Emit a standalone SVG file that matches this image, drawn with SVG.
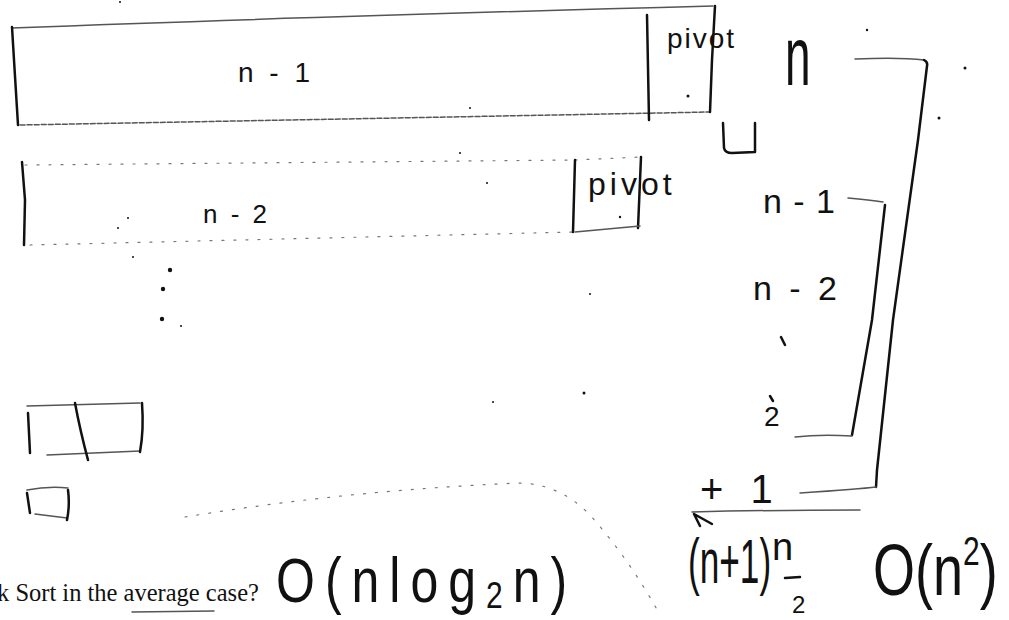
<svg xmlns="http://www.w3.org/2000/svg" width="1009" height="620" viewBox="0 0 1009 620">
<style>
.hw{font-family:"Liberation Sans","DejaVu Sans",sans-serif;fill:#111}
.pr{font-family:"Liberation Serif","Times New Roman",serif;fill:#111}
.ink{fill:none;stroke:#111;stroke-width:2.5;stroke-linecap:round;stroke-linejoin:round}
.thin{fill:none;stroke:#555;stroke-width:1.5;stroke-linecap:round}
.faint{fill:none;stroke:#777;stroke-width:1.2;stroke-dasharray:2 10;stroke-linecap:round}
.dot{fill:#111}
</style>
<rect width="1009" height="620" fill="#fff"/>

<g id="row1">
<path class="thin" d="M12,28 Q300,17 713,6"/>
<path class="thin" stroke-dasharray="5 2" d="M20,125 Q400,118 710,112"/>
<path class="ink" stroke-width="3" d="M12,27 L14,60 L18,125"/>
<path class="ink" d="M647,15 L649,120"/>
<path class="ink" d="M715,6 L712,60 L710,112"/>
<circle class="dot" cx="688" cy="96" r="1.5"/>
<text class="hw" x="238" y="82" font-size="28" letter-spacing="4">n - 1</text>
<text class="hw" x="667" y="48" font-size="28" letter-spacing="2">pivot</text>
</g>

<g id="row2">
<path class="faint" d="M25,165 L575,160"/>
<path class="faint" d="M30,245 L575,232"/>
<path class="ink" d="M22,162 L25,200 L24,245"/>
<path class="faint" d="M575,160 L641,157"/>
<path class="ink" d="M575,160 L573,232"/>
<path class="ink" stroke-width="2" d="M641,157 L638,228"/>
<path class="thin" stroke-width="1.2" d="M575,232 L640,226"/>
<circle class="dot" cx="620" cy="217" r="1.2"/>
<text class="hw" x="203" y="223" font-size="26" letter-spacing="3">n - 2</text>
<text class="hw" x="588" y="195" font-size="32" letter-spacing="4">pivot</text>
</g>

<g id="ellipsis">
<circle class="dot" cx="170" cy="270" r="2.2"/>
<circle class="dot" cx="163" cy="289" r="2.2"/>
<circle class="dot" cx="162" cy="319" r="2.2"/>
<circle class="dot" cx="128" cy="218" r="1"/>
<circle class="dot" cx="118" cy="228" r="1"/>
<circle class="dot" cx="133" cy="257" r="1"/>
<circle class="dot" cx="181" cy="326" r="1"/>
</g>

<g id="box-two">
<path class="thin" d="M27,406 L140,403"/>
<path class="ink" stroke-width="3" d="M28,413 L30,453"/>
<path class="thin" d="M47,455 L140,451"/>
<path class="ink" d="M142,403 Q144,430 140,452"/>
<path class="ink" stroke-width="2" d="M75,403 Q80,430 88,460"/>
</g>

<g id="box-one">
<path class="thin" d="M27,490 Q48,486 68,488"/>
<path class="ink" d="M27,493 L30,513"/>
<path class="thin" d="M35,514 L67,518"/>
<path class="ink" d="M68,490 Q70,505 67,520"/>
</g>

<g id="sum-terms">
<text class="hw" transform="translate(785,85) scale(1,1.8)" font-size="46">n</text>
<path class="ink" d="M723,123 L724,148 Q725,153 732,153 L755,152 L755,123"/>
<text class="hw" x="763" y="213" font-size="34" letter-spacing="1">n - 1</text>
<text class="hw" x="753" y="300" font-size="34" letter-spacing="4">n - 2</text>
<path class="ink" d="M781,337 L785,345"/>
<path class="ink" stroke-width="1.5" d="M770,396 L773,401"/>
<text class="hw" x="764" y="426" font-size="28">2</text>
<text class="hw" x="700" y="503" font-size="40" letter-spacing="8">+ 1</text>
</g>

<g id="result">
<text class="hw" transform="translate(688,583) scale(0.8,1.45)" font-size="44">(n+1)</text>
<text class="hw" x="772" y="560" font-size="38">n</text>
<path class="ink" stroke-width="2" d="M785,578 L800,577"/>
<text class="hw" x="792" y="613" font-size="24">2</text>
<text class="hw" transform="translate(873,595) scale(1,1.35)" font-size="54">O(n<tspan font-size="30" dy="-22">2</tspan><tspan dy="22">)</tspan></text>
</g>

<g id="question">
<text class="pr" x="-3" y="601" font-size="24.5">k Sort in the average case?</text>
<path class="thin" stroke-width="2" d="M132,612 L214,611"/>
<text class="hw" transform="translate(276,602) scale(1,1.25)" font-size="50" letter-spacing="10">O(nlog<tspan font-size="30" dy="5">2</tspan><tspan dy="-5">n)</tspan></text>
</g>

<g id="connectors">
<path class="thin" d="M855,59 Q900,57 924,60"/>
<path class="ink" stroke-width="2.2" d="M924,60 Q928,62 927,66 L918,140 L893,320 L877,470 L876,487"/>
<path class="thin" d="M876,487 Q860,489 800,493"/>
<path class="thin" d="M848,198 Q870,200 883,202"/>
<path class="ink" d="M885,205 L872,320 L852,435"/>
<path class="thin" d="M852,436 Q820,434 795,437"/>
<path class="thin" stroke-width="2" d="M692,512 Q770,510 860,510"/>
<path class="ink" stroke-width="1.5" d="M694,514 L712,524 M694,514 L700,526"/>
<path class="faint" stroke-dasharray="2 4" d="M185,517 Q350,490 520,483 Q560,484 590,515 Q630,560 660,615"/>
</g>

<g id="specks">
<circle class="dot" cx="120" cy="2" r="1"/>
<circle class="dot" cx="470" cy="108" r="1"/>
<circle class="dot" cx="460" cy="153" r="1"/>
<circle class="dot" cx="487" cy="183" r="1"/>
<circle class="dot" cx="493" cy="402" r="1"/>
<circle class="dot" cx="584" cy="393" r="1.5"/>
<circle class="dot" cx="590" cy="294" r="1"/>
<circle class="dot" cx="867" cy="30" r="1.2"/>
<circle class="dot" cx="965" cy="68" r="1.5"/>
<circle class="dot" cx="939" cy="118" r="1.5"/>
</g>
</svg>
